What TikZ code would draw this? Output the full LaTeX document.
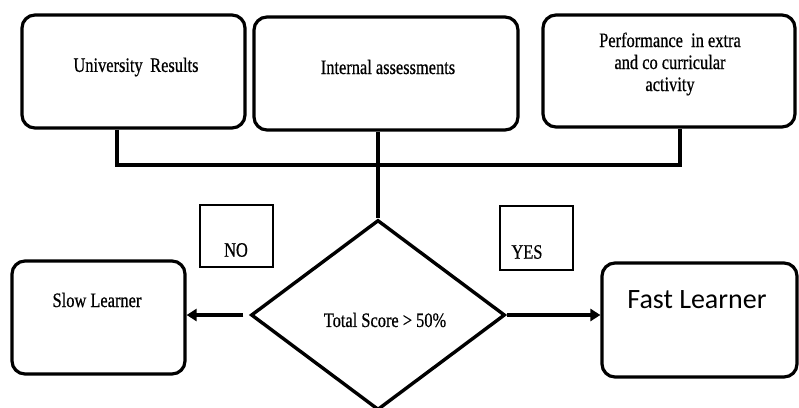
\documentclass[tikz,border=0pt]{standalone}
\usepackage{fontspec}
\setmainfont{Liberation Serif}[FakeStretch=0.8,FakeBold=0.6]
\newfontfamily\fastfont{Carlito}
\usetikzlibrary{shapes.geometric,arrows.meta}

\begin{document}
\begin{tikzpicture}[x=1pt,y=-1pt,
    infobox/.style={draw,line width=3.2pt,rounded corners=13pt,inner sep=0pt},
    tagbox/.style={draw,line width=1.4pt,inner sep=0pt},
    label/.style={font=\fontsize{20.5}{22}\selectfont,align=center,inner sep=0pt},
    flow/.style={line width=3.4pt,-{Triangle[length=10pt,width=12pt]}}]
    \useasboundingbox (0,0) rectangle (799,407);
    % input boxes
    \node (uni) [infobox,minimum width=223pt,minimum height=113pt] at (133.5,71.5) {};
    \node (internal) [infobox,minimum width=264pt,minimum height=113pt] at (386,73.5) {};
    \node (extra) [infobox,minimum width=252pt,minimum height=112pt] at (669,71) {};
    \node (uniText) [label] at (136,67) {University\, Results};
    \node (internalText) [label] at (388,67) {Internal assessments};
    \node (extraText) [label] at (670,64) {Performance\ \ in extra\\and co curricular\\activity};
    % bus joining the three inputs
    \coordinate (busL) at (117,165);
    \coordinate (busR) at (680,165);
    \coordinate (join) at (378,165);
    \draw[line width=3.4pt] (busL |- uni.south) -- (busL) -- (busR) -- (busR |- extra.south);
    % decision
    \node (decide) [draw,shape=diamond,line width=3.4pt,inner sep=0pt,
      minimum width=254pt,minimum height=190pt] at (378,315) {};
    \node (decideText) [label] at (385,320) {Total Score > 50\%};
    \draw[line width=3.4pt] (join |- internal.south) -- (decide.north);
    % outcomes
    \node (slow) [infobox,minimum width=173pt,minimum height=113pt] at (98.5,317.5) {};
    \node (fast) [infobox,minimum width=195pt,minimum height=114pt] at (699.5,320) {};
    \node (slowText) [label] at (97,300) {Slow Learner};
    \node (fastText) [label,font=\fastfont\fontsize{28}{30}\selectfont] at (697,300) {Fast Learner};
    \draw[flow] (decide.west) ++(-6,0) coordinate (noStart) -- (noStart -| slow.east);
    \draw[flow] (decide.east) -- (decide.east -| fast.west);
    % yes / no tags
    \node (no) [tagbox,minimum width=73pt,minimum height=62pt] at (236.5,236) {};
    \node (yes) [tagbox,minimum width=73pt,minimum height=64pt] at (536.5,238) {};
    \node (noText) [label] at (236,250) {NO};
    \node (yesText) [label] at (527,252) {YES};
\end{tikzpicture}
\end{document}
